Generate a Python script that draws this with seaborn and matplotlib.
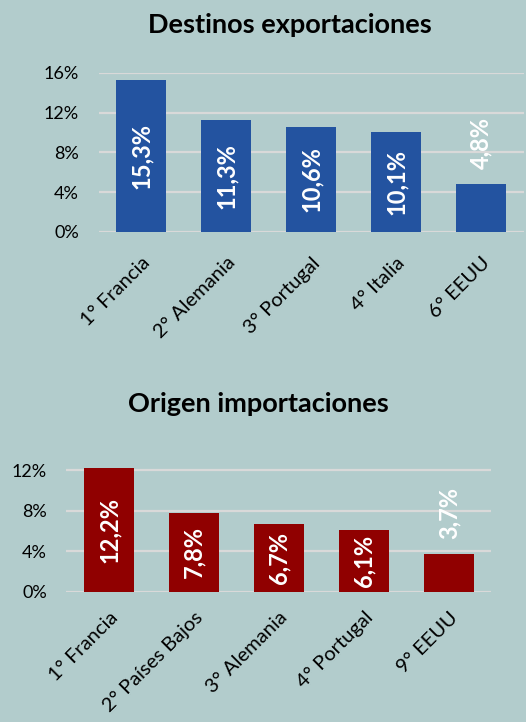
import pandas as pd
import numpy as np
import matplotlib.pyplot as plt
import seaborn as sns

# Data
export_labels = ['1° Francia', '2° Alemania', '3° Portugal', '4° Italia', '6° EEUU']
export_values = [15.3, 11.3, 10.6, 10.1, 4.8]
import_labels = ['1° Francia', '2° Países Bajos', '3° Alemania', '4° Portugal', '9° EEUU']
import_values = [12.2, 7.8, 6.7, 6.1, 3.7]

bg = '#B2CCCC'
sns.set_style("white")
plt.rcParams['font.family'] = ['Lato', 'DejaVu Sans']
plt.rcParams['text.color'] = 'black'

fig = plt.figure(figsize=(5.26, 7.22), dpi=100)
fig.patch.set_facecolor(bg)


def draw_panel(ax, labels, values, color, ymax, title, title_x, title_y, xpad):
    df = pd.DataFrame({'cat': labels, 'val': values})
    sns.barplot(data=df, x='cat', y='val', color=color, width=0.59,
                saturation=1, linewidth=0, ax=ax, zorder=3)
    ax.set_facecolor(bg)
    ax.set_ylim(0, ymax)
    ticks = [t for t in [0, 4, 8, 12, 16] if t <= ymax]
    ax.set_yticks(ticks)
    ax.set_yticklabels([f'{t}%' for t in ticks], fontsize=13, color='black')
    ax.yaxis.grid(True, color='#D9D9D9', lw=1.6, zorder=0)
    ax.set_axisbelow(True)
    for s in ax.spines.values():
        s.set_visible(False)
    ax.tick_params(axis='y', length=0, pad=14)
    ax.tick_params(axis='x', length=0, pad=xpad)
    ax.set_xlabel('')
    ax.set_ylabel('')
    ax.set_xticks(range(len(labels)))
    ax.set_xticklabels(labels, rotation=45, ha='right', rotation_mode='anchor',
                       fontsize=14.5, color='black')
    for i, v in enumerate(values):
        txt = f'{v:.1f}%'.replace('.', ',')
        if v < 5:
            ax.annotate(txt, (i, v), xytext=(0, 11), textcoords='offset points',
                        rotation=90, ha='center', va='bottom', color='white',
                        fontsize=17, fontweight='bold', zorder=4)
        else:
            ax.text(i, v / 2, txt, rotation=90, ha='center', va='center',
                    color='white', fontsize=17, fontweight='bold', zorder=4)
    fig.text(title_x, title_y, title, ha='center', va='center',
             fontsize=19.5, fontweight='bold', color='black')


ax1 = fig.add_axes([0.1873, 0.6787, 0.808, 0.2202])
draw_panel(ax1, export_labels, export_values, '#2353A0', 16,
           'Destinos exportaciones', 290 / 526, 1 - 25 / 722, 16)

ax2 = fig.add_axes([0.1264, 0.1801, 0.808, 0.1731])
draw_panel(ax2, import_labels, import_values, '#900000', 12.3,
           'Origen importaciones', 258 / 526, 1 - 404 / 722, 12)

fig.savefig('out.png', dpi=100, facecolor=bg)
